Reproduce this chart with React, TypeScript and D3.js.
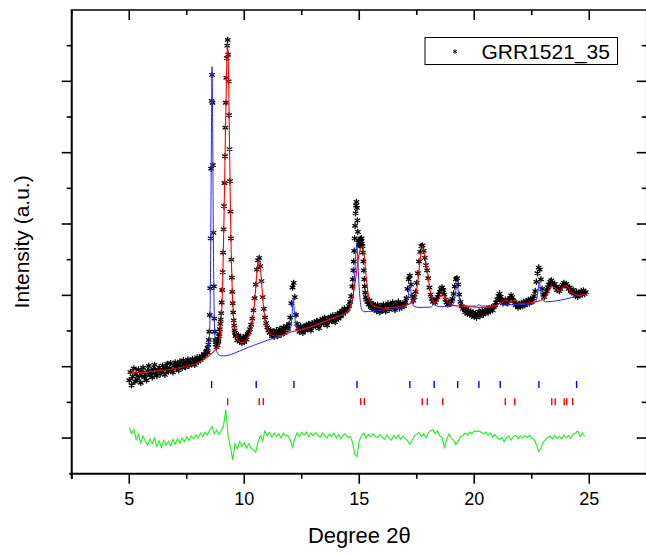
import React from 'react';
import * as d3 from 'd3';

const W = 646;
const H = 556;
const FONT = '"Liberation Sans", Arial, Helvetica, sans-serif';

// axis ranges and ticks (2-theta in degrees, intensity in arbitrary units)
const xDomain: [number, number] = [2.5, 27.5];
const yDomain: [number, number] = [-1, 12];
const xMajorTicks = [5, 10, 15, 20, 25];
const xMinorTicks = [2.5, 7.5, 12.5, 17.5, 22.5, 27.5];
const yMajorTicks = [0, 2, 4, 6, 8, 10];
const yMinorTicks = [1, 3, 5, 7, 9, 11];

const legendLabel = 'GRR1521_35';
const xTitle = 'Degree 2\u03b8';
const yTitle = 'Intensity (a.u.)';

// observed pattern, stored as segments (start angle, step, intensities)
const obsSegAStart = 5.0;
const obsSegAStep = 0.05;
const obsSegA = [
  1.62, 1.85, 1.48, 1.72, 1.95, 1.58, 1.8, 1.66, 1.92, 1.74,
  1.55, 1.83, 1.97, 1.7, 1.78, 1.62, 1.88, 2.02, 1.76, 1.85,
  1.7, 1.93, 2.05, 1.81, 1.74, 1.9, 1.98, 1.79, 1.86, 2.03,
  1.92, 1.77, 1.95, 2.08, 1.87, 1.96, 2.1, 1.91, 1.84, 2.02,
  2.12, 1.96, 2.05, 1.9, 2.14, 2.04, 1.97, 2.18, 2.08, 1.99,
  2.11, 2.2, 2.03, 2.13, 2.07, 2.22, 2.12, 2.05, 2.18, 2.26,
  2.14, 2.24, 2.19, 2.3, 2.27, 2.36, 2.33, 2.42,
];

const obsSegBStart = 8.38;
const obsSegBStep = 0.02;
const obsSegB = [
  2.45, 2.52, 2.4, 2.62, 2.75, 2.98, 3.45, 4.2, 5.6, 7.55,
  9.45, 10.18, 9.4, 7.65, 5.75, 4.25, 3.35, 2.98, 2.75, 2.62,
  2.7, 2.55, 2.68, 2.6, 2.74, 2.7, 2.85, 2.92, 3.05, 3.2,
  3.32, 3.5, 3.8, 4.15, 4.65, 5.2, 5.85, 6.5, 7.15, 7.9,
  8.7, 9.4, 10.1, 10.65, 11.0, 11.16, 10.75, 10.0, 9.05, 8.1,
  7.2, 6.35, 5.6, 5.0, 4.5, 4.1, 3.78, 3.52, 3.3, 3.15,
  3.02, 2.95, 2.86,
];

const obsSegCStart = 9.65;
const obsSegCStep = 0.05;
const obsSegC = [
  2.9, 2.74, 2.88, 2.7, 2.82, 2.66, 2.8, 2.69, 2.86, 2.76,
  2.92, 2.96, 3.05, 3.18, 3.35, 3.58, 3.92, 4.3, 4.72, 4.98,
  5.05, 4.82, 4.4, 3.95, 3.62, 3.38, 3.22, 3.1, 3.02, 2.95,
  3.02, 2.86, 2.99, 2.84, 2.95, 3.02, 2.86, 2.98, 3.06, 2.9,
  3.02, 3.1, 2.95, 3.07, 3.14, 3.06, 3.2, 3.38, 3.78, 4.22,
  4.35, 3.95, 3.45, 3.2, 3.08, 2.98, 3.14, 3.03, 2.95, 3.12,
  3.01, 3.17, 3.05, 3.2, 3.09, 3.02, 3.22, 3.12, 3.25, 3.13,
  3.28, 3.17, 3.08, 3.3, 3.2, 3.34, 3.21, 3.37, 3.25, 3.16,
  3.36, 3.27, 3.4, 3.28, 3.44, 3.33, 3.25, 3.42, 3.48, 3.35,
  3.52, 3.41, 3.57, 3.48, 3.63, 3.55, 3.58, 3.62, 3.7, 3.82,
  3.98, 4.25,
];

const obsSegDStart = 14.72;
const obsSegDStep = 0.02;
const obsSegD = [
  4.45, 4.7, 4.95, 5.25, 5.6, 5.95, 6.3, 6.52, 6.62, 6.45,
  6.1, 5.78, 5.55, 5.42, 5.48, 5.4, 5.52, 5.58, 5.5, 5.6,
  5.45, 5.38, 5.2, 4.95, 4.7, 4.45, 4.25, 4.08, 3.95, 3.88,
];

const obsSegEStart = 15.35;
const obsSegEStep = 0.05;
const obsSegE = [
  3.82, 3.74, 3.86, 3.68, 3.64, 3.76, 3.6, 3.7, 3.56, 3.73,
  3.62, 3.53, 3.69, 3.58, 3.74, 3.61, 3.55, 3.71, 3.77, 3.6,
  3.72, 3.64, 3.8, 3.66, 3.59, 3.76, 3.68, 3.82, 3.64, 3.75,
  3.66, 3.78, 3.7, 3.8, 3.92, 4.18, 4.45, 4.55, 4.3, 3.98,
  3.85, 3.95, 4.1, 4.35, 4.62, 4.95, 5.22, 5.38, 5.4, 5.25,
  5.05, 4.85, 4.7, 4.48, 4.22, 4.02, 3.9, 3.82, 3.86, 3.8,
  3.88, 3.95, 4.02, 4.1, 4.18, 4.22, 4.15, 4.02, 3.88, 3.8,
  3.75, 3.82, 3.76, 3.84, 3.9, 4.05, 4.25, 4.45, 4.48, 4.3,
  4.02, 3.82, 3.7, 3.62, 3.66, 3.53, 3.62, 3.48, 3.58, 3.46,
  3.55, 3.43, 3.52, 3.4, 3.49, 3.38, 3.48, 3.54, 3.42, 3.52,
  3.57, 3.46, 3.58, 3.5, 3.62, 3.52, 3.64, 3.55, 3.66, 3.58,
  3.68, 3.72, 3.8, 3.88, 3.98, 4.05, 3.96, 3.85, 3.78, 3.82,
  3.88, 3.8, 3.78, 3.84, 3.92, 4.0, 3.95, 3.85, 3.78, 3.72,
  3.78, 3.66, 3.76, 3.68, 3.79, 3.7, 3.82, 3.72, 3.84, 3.76,
  3.87, 3.78, 3.9, 3.82, 3.92, 3.98, 4.12, 4.38, 4.62, 4.78,
  4.72, 4.45, 4.18, 4.02, 3.95, 4.05, 4.12, 4.22, 4.3, 4.38,
  4.42, 4.36, 4.28, 4.32, 4.22, 4.15, 4.2, 4.12, 4.18, 4.25,
  4.3, 4.35, 4.28, 4.32, 4.25, 4.18, 4.22, 4.12, 4.08, 4.15,
  4.05, 3.98, 4.1, 3.96, 4.07, 4.0, 4.12, 4.02, 4.14, 4.04,
  4.09,
];

// calculated profile of the first phase (blue), [2theta, intensity]
const calcBlue: [number, number][] = [
  [8.35, 2.38], [8.45, 2.6], [8.5, 3.1], [8.54, 5.2], [8.57, 8.2], [8.6, 10.41],
  [8.63, 8.3], [8.66, 5.3], [8.7, 3.3], [8.75, 2.62], [8.82, 2.4], [8.95, 2.31],
  [9.1, 2.3], [9.4, 2.34], [9.8, 2.44], [10.2, 2.55], [10.5, 2.62], [11.0, 2.74],
  [11.5, 2.85], [11.9, 2.94], [12.0, 3.05], [12.07, 3.4], [12.13, 3.9], [12.19, 3.45],
  [12.26, 3.12], [12.4, 3.03], [12.9, 3.12], [13.3, 3.22], [13.7, 3.32], [14.1, 3.42],
  [14.4, 3.5], [14.6, 3.62], [14.72, 3.95], [14.8, 4.6], [14.85, 5.15], [14.89, 5.46],
  [14.93, 5.1], [14.98, 4.4], [15.05, 3.8], [15.12, 3.58], [15.2, 3.54], [15.6, 3.56],
  [16.2, 3.6], [16.8, 3.64], [17.05, 3.72], [17.12, 3.95], [17.2, 4.27], [17.28, 3.95],
  [17.36, 3.7], [17.6, 3.66], [18.1, 3.67], [18.2, 3.72], [18.26, 3.8], [18.32, 3.72],
  [18.5, 3.68], [19.0, 3.69], [19.12, 3.82], [19.19, 4.1], [19.25, 4.34], [19.31, 4.1],
  [19.4, 3.78], [19.6, 3.7], [20.1, 3.7], [20.2, 3.74], [20.3, 3.7], [21.0, 3.72],
  [21.13, 3.79], [21.25, 3.73], [22.0, 3.74], [22.55, 3.76], [22.72, 3.9], [22.78, 4.15],
  [22.83, 4.39], [22.88, 4.15], [22.95, 3.9], [23.1, 3.82], [23.5, 3.84], [24.0, 3.9],
  [24.45, 3.98], [24.85, 4.03],
];

// calculated profile of the second phase (red), [2theta, intensity]
const calcRed: [number, number][] = [
  [5.0, 1.82], [5.5, 1.84], [6.0, 1.87], [6.5, 1.9], [7.0, 1.95], [7.5, 2.01],
  [8.0, 2.12], [8.3, 2.22], [8.6, 2.38], [8.8, 2.52], [8.9, 2.62], [8.96, 2.9],
  [9.0, 3.3], [9.04, 3.9], [9.08, 4.9], [9.12, 6.2], [9.16, 7.7], [9.2, 9.2],
  [9.24, 10.5], [9.28, 11.07], [9.32, 10.1], [9.36, 8.2], [9.4, 6.4], [9.44, 5.0],
  [9.48, 4.1], [9.52, 3.55], [9.58, 3.1], [9.65, 2.88], [9.75, 2.74], [9.85, 2.68],
  [9.95, 2.68], [10.05, 2.72], [10.15, 2.8], [10.25, 2.95], [10.35, 3.25], [10.45, 3.8],
  [10.52, 4.4], [10.58, 4.85], [10.64, 5.02], [10.7, 4.8], [10.76, 4.3], [10.82, 3.8],
  [10.9, 3.35], [11.0, 3.08], [11.15, 2.92], [11.35, 2.86], [11.6, 2.88], [11.9, 2.95],
  [12.2, 3.0], [12.5, 3.04], [12.9, 3.12], [13.3, 3.22], [13.7, 3.32], [14.1, 3.42],
  [14.4, 3.5], [14.55, 3.6], [14.65, 3.75], [14.75, 4.05], [14.85, 4.5], [14.95, 4.98],
  [15.05, 5.3], [15.15, 5.37], [15.22, 5.1], [15.3, 4.5], [15.4, 4.0], [15.5, 3.78],
  [15.7, 3.68], [16.0, 3.64], [16.5, 3.66], [17.0, 3.72], [17.3, 3.8], [17.45, 4.0],
  [17.55, 4.4], [17.65, 5.0], [17.74, 5.37], [17.82, 5.2], [17.9, 4.9], [17.98, 4.6],
  [18.06, 4.2], [18.15, 3.92], [18.26, 3.8], [18.4, 3.85], [18.52, 3.97], [18.63, 4.03],
  [18.73, 3.94], [18.85, 3.8], [19.0, 3.72], [19.4, 3.7], [19.8, 3.68], [20.2, 3.66],
  [20.6, 3.67], [20.9, 3.7], [21.1, 3.78], [21.25, 3.82], [21.35, 3.87], [21.5, 3.8],
  [21.65, 3.84], [21.76, 3.86], [21.9, 3.78], [22.2, 3.78], [22.5, 3.8], [22.8, 3.84],
  [23.0, 3.9], [23.2, 4.05], [23.37, 4.25], [23.48, 4.22], [23.6, 4.15], [23.7, 4.13],
  [23.82, 4.2], [23.95, 4.27], [24.05, 4.25], [24.18, 4.13], [24.3, 4.05], [24.5, 4.0],
  [24.7, 4.02], [24.85, 4.04],
];

// difference curve, from 5.0 deg in steps of 0.1 deg
const diffStart = 5.0;
const diffStep = 0.1;
const diffValues = [
  0.3, 0.12, 0.24, -0.04, 0.1, -0.14, 0.06, -0.1, -0.2, -0.03,
  -0.16, 0.0, -0.24, -0.08, -0.26, -0.06, -0.2, -0.1, -0.22, -0.04,
  -0.17, -0.02, -0.14, 0.0, -0.1, 0.04, -0.07, 0.06, -0.02, 0.1,
  0.0, 0.14, 0.04, 0.17, 0.08, 0.24, 0.32, 0.12, 0.22, 0.1,
  0.2, 0.35, 0.8, 0.05, -0.25, -0.62, -0.16, -0.3, -0.1, -0.24,
  -0.13, -0.28, -0.16, -0.3, -0.32, -0.4, -0.1, 0.06, -0.08, 0.2,
  0.06, 0.16, 0.02, 0.14, 0.04, 0.12, 0.0, 0.14, 0.06, 0.07,
  -0.05, -0.26, 0.0, 0.14, 0.03, 0.16, 0.08, 0.17, 0.04, 0.14,
  0.06, 0.16, 0.08, 0.02, 0.14, 0.06, 0.0, 0.12, 0.04, 0.14,
  0.0, 0.1, -0.02, 0.08, 0.12, 0.02, 0.04, -0.1, -0.45, -0.52,
  -0.08, 0.07, 0.14, 0.0, 0.1, 0.03, 0.12, 0.04, 0.01, 0.1,
  0.02, -0.04, 0.08, 0.0, -0.06, 0.07, -0.02, 0.08, -0.04, 0.06,
  -0.02, -0.08, -0.18, -0.06, 0.06, 0.1, 0.16, 0.04, 0.12, 0.0,
  0.14, 0.2, 0.24, 0.12, 0.2, 0.06, 0.02, -0.26, -0.05, 0.12,
  0.0, -0.06, -0.18, -0.1, 0.04, 0.06, 0.14, 0.08, 0.17, 0.12,
  0.2, 0.18, 0.2, 0.16, 0.12, 0.17, 0.08, 0.14, 0.03, 0.1,
  0.0, -0.04, 0.02, -0.1, 0.0, 0.06, -0.06, 0.04, 0.08, -0.02,
  0.06, 0.0, 0.07, 0.01, 0.08, 0.0, -0.04, -0.18, -0.38, -0.28,
  -0.12, -0.04, 0.02, 0.05, -0.03, 0.07, -0.01, 0.05, -0.03, 0.08,
  0.0, 0.07, -0.01, 0.1, 0.14, 0.2, 0.04, 0.14, 0.05,
];

// Bragg reflection positions of the two phases
const reflBlue = [8.58, 10.52, 12.16, 14.9, 17.2, 18.26, 19.28, 20.2, 21.13, 22.81, 24.45];
const reflRed = [9.28, 10.65, 10.83, 15.06, 15.22, 17.74, 17.96, 18.63, 21.35, 21.76, 23.37, 23.52, 23.91, 24.02, 24.28];
const reflBlueLevel = 1.5;
const reflRedLevel = 1.02;

const obsSegments = [
  { start: obsSegAStart, step: obsSegAStep, counts: obsSegA },
  { start: obsSegBStart, step: obsSegBStep, counts: obsSegB },
  { start: obsSegCStart, step: obsSegCStep, counts: obsSegC },
  { start: obsSegDStart, step: obsSegDStep, counts: obsSegD },
  { start: obsSegEStart, step: obsSegEStep, counts: obsSegE },
];

function starPath(cx: number, cy: number, r: number): string {
  const dx = r * 0.87;
  const dy = r * 0.5;
  return (
    `M${cx},${cy - r}L${cx},${cy + r}` +
    `M${cx - dx},${cy - dy}L${cx + dx},${cy + dy}` +
    `M${cx - dx},${cy + dy}L${cx + dx},${cy - dy}`
  );
}

export default function App() {
  const x = d3.scaleLinear().domain(xDomain).range([71.75, 646.75]);
  const y = d3.scaleLinear().domain(yDomain).range([473.7, 10]);

  const left = x(xDomain[0]);
  const right = x(xDomain[1]);
  const top = y(yDomain[1]);
  const bottom = y(yDomain[0]);

  const obsPoints: [number, number][] = [];
  obsSegments.forEach((seg) => {
    seg.counts.forEach((c, i) => {
      obsPoints.push([seg.start + i * seg.step, c]);
    });
  });
  const obsPath = obsPoints.map(([a, c]) => starPath(x(a), y(c), 3.2)).join('');

  const line = d3
    .line<[number, number]>()
    .x((d) => x(d[0]))
    .y((d) => y(d[1]))
    .curve(d3.curveMonotoneX);

  const diffPoints: [number, number][] = diffValues.map((v, i) => [diffStart + i * diffStep, v]);
  const diffLine = d3
    .line<[number, number]>()
    .x((d) => x(d[0]))
    .y((d) => y(d[1]));

  const axisColor = '#000';
  const tickW = 1.6;

  return (
    <svg
      width={W}
      height={H}
      viewBox={`0 0 ${W} ${H}`}
      style={{ position: 'absolute', left: 0, top: 0, background: '#fff' }}
      fontFamily={FONT}
    >
      <rect x={0} y={0} width={W} height={H} fill="#fff" />

      {/* observed data */}
      <path d={obsPath} stroke="#000" strokeWidth={1.25} fill="none" />

      {/* calculated profiles */}
      <path d={line(calcBlue) || ''} stroke="#2a2aff" strokeWidth={1} fill="none" />
      <path d={line(calcRed) || ''} stroke="#ff0000" strokeWidth={1.1} fill="none" />

      {/* reflection markers */}
      {reflBlue.map((a) => (
        <line
          key={`b${a}`}
          x1={x(a)}
          x2={x(a)}
          y1={y(reflBlueLevel) - 3.5}
          y2={y(reflBlueLevel) + 3.5}
          stroke="#0000ff"
          strokeWidth={1.4}
        />
      ))}
      {reflRed.map((a) => (
        <line
          key={`r${a}`}
          x1={x(a)}
          x2={x(a)}
          y1={y(reflRedLevel) - 3.5}
          y2={y(reflRedLevel) + 3.5}
          stroke="#ff0000"
          strokeWidth={1.4}
        />
      ))}

      {/* difference curve */}
      <path d={diffLine(diffPoints) || ''} stroke="#22ee22" strokeWidth={1.1} fill="none" />

      {/* frame */}
      <line x1={left} x2={left} y1={top} y2={bottom + 5} stroke={axisColor} strokeWidth={2} />
      <line x1={left - 2.5} x2={right} y1={bottom} y2={bottom} stroke={axisColor} strokeWidth={2} />
      <line x1={left - 1} x2={right} y1={top} y2={top} stroke={axisColor} strokeWidth={1.6} />
      <line x1={right} x2={right} y1={top} y2={bottom} stroke={axisColor} strokeWidth={1.6} />

      {/* bottom and top ticks */}
      {xMajorTicks.map((t) => (
        <g key={`xM${t}`}>
          <line x1={x(t)} x2={x(t)} y1={bottom} y2={bottom + 10} stroke={axisColor} strokeWidth={tickW} />
          <line x1={x(t)} x2={x(t)} y1={top} y2={top + 10} stroke={axisColor} strokeWidth={tickW} />
          <text x={x(t)} y={505} fontSize={18} textAnchor="middle" fill="#000">
            {t}
          </text>
        </g>
      ))}
      {xMinorTicks.map((t) => (
        <g key={`xm${t}`}>
          <line x1={x(t)} x2={x(t)} y1={bottom} y2={bottom + 5} stroke={axisColor} strokeWidth={tickW} />
          <line x1={x(t)} x2={x(t)} y1={top} y2={top + 5} stroke={axisColor} strokeWidth={tickW} />
        </g>
      ))}

      {/* left and right ticks */}
      {yMajorTicks.map((t) => (
        <g key={`yM${t}`}>
          <line x1={left - 10} x2={left} y1={y(t)} y2={y(t)} stroke={axisColor} strokeWidth={tickW} />
          <line x1={right - 10} x2={right} y1={y(t)} y2={y(t)} stroke={axisColor} strokeWidth={tickW} />
        </g>
      ))}
      {yMinorTicks.map((t) => (
        <g key={`ym${t}`}>
          <line x1={left - 5} x2={left} y1={y(t)} y2={y(t)} stroke={axisColor} strokeWidth={tickW} />
          <line x1={right - 5} x2={right} y1={y(t)} y2={y(t)} stroke={axisColor} strokeWidth={tickW} />
        </g>
      ))}

      {/* axis titles */}
      <text x={(left + right) / 2} y={543} fontSize={22} textAnchor="middle" fill="#000">
        {xTitle}
      </text>
      <text
        transform={`translate(29, ${(top + bottom) / 2}) rotate(-90)`}
        fontSize={21}
        textAnchor="middle"
        fill="#000"
      >
        {yTitle}
      </text>

      {/* legend */}
      <rect x={425} y={37.5} width={192.5} height={27} fill="#fff" stroke="#000" strokeWidth={1} />
      <path d={starPath(455, 51.5, 2.2)} stroke="#000" strokeWidth={1} fill="none" />
      <text x={481.5} y={58.5} fontSize={21} fill="#000">
        {legendLabel}
      </text>
    </svg>
  );
}
